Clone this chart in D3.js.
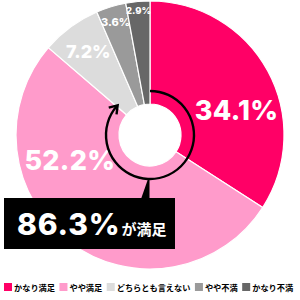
<!DOCTYPE html>
<html>
<head>
<meta charset="utf-8">
<script src="https://cdn.jsdelivr.net/npm/d3@7"></script>
<style>
  html, body { margin: 0; padding: 0; background: #fff; }
  svg { display: block; }
</style>
</head>
<body>
<div id="chart"></div>
<script>
// data
const categories = ['かなり満足', 'やや満足', 'どちらとも言えない', 'やや不満', 'かなり不満']
const values = [34.1, 52.2, 7.2, 3.6, 2.9]
const colors = ['#ff0066', '#ff9bcb', '#dcdcdc', '#9a9a9a', '#676767']
const satisfied = 86.3
const satisfiedLabel = 'が満足'

// layout
const width = 300
const height = 300
const cx = 150
const cy = 135
const outerR = 134
const innerR = 31
const ringR = 44
// label placement [angle in deg from top, radius, font size]
const labelPos = [[74, 90, 27], [252.6, 84, 27], [323.6, 104, 18], [343, 118, 11], [354.8, 125, 9.5]]

const svg = d3.select('#chart').append('svg')
  .attr('width', width)
  .attr('height', height)

const g = svg.append('g').attr('transform', `translate(${cx},${cy})`)

const pie = d3.pie().sort(null).value(d => d)
const arcs = pie(values)

const arc = d3.arc().innerRadius(innerR).outerRadius(outerR)

g.selectAll('.slice')
  .data(arcs)
  .enter()
  .append('path')
  .attr('class', 'slice')
  .attr('d', arc)
  .attr('fill', (d, i) => colors[i])
  .attr('stroke', '#fff')
  .attr('stroke-width', 1.2)

// percentage labels
g.selectAll('.pct')
  .data(arcs)
  .enter()
  .append('text')
  .attr('class', 'pct')
  .attr('x', (d, i) => Math.sin(labelPos[i][0] * Math.PI / 180) * labelPos[i][1])
  .attr('y', (d, i) => -Math.cos(labelPos[i][0] * Math.PI / 180) * labelPos[i][1])
  .attr('dy', '0.36em')
  .attr('text-anchor', 'middle')
  .style('font-family', 'Inter, Roboto, sans-serif')
  .style('font-weight', 800)
  .style('font-size', (d, i) => labelPos[i][2] + 'px')
  .style('letter-spacing', (d, i) => i < 2 ? '0.3px' : '0px')
  .attr('fill', '#fff')
  .text(d => d.data.toFixed(1) + '%')

// ring arrow showing satisfied share
const endAngle = 2 * Math.PI * satisfied / 100
const p = d3.path()
p.arc(0, 0, ringR, -Math.PI / 2, -Math.PI / 2 + endAngle)
g.append('path')
  .attr('d', p.toString())
  .attr('fill', 'none')
  .attr('stroke', '#000')
  .attr('stroke-width', 2.4)

const tipX = Math.sin(endAngle) * ringR
const tipY = -Math.cos(endAngle) * ringR
const dir = [Math.cos(endAngle), Math.sin(endAngle)]
const head = 8
const spread = 40 * Math.PI / 180
function rot(v, a) {
  return [v[0] * Math.cos(a) - v[1] * Math.sin(a), v[0] * Math.sin(a) + v[1] * Math.cos(a)]
}
const back = [-dir[0], -dir[1]]
const w1 = rot(back, spread)
const w2 = rot(back, -spread)
g.append('path')
  .attr('d', `M${tipX + w1[0] * head},${tipY + w1[1] * head}L${tipX + 1},${tipY - 1}L${tipX + w2[0] * head},${tipY + w2[1] * head}`)
  .attr('fill', 'none')
  .attr('stroke', '#000')
  .attr('stroke-width', 2.4)
  .attr('stroke-linejoin', 'miter')

// callout box
const box = { x: 4, y: 198, w: 171, h: 51 }
svg.append('path')
  .attr('d', `M${cx - 2},${cy + ringR}L${cx - 0.5},${cy + ringR}L${cx - 0.5},${box.y + 1}L${cx - 9},${box.y + 1}Z`)
  .attr('fill', '#000')

svg.append('rect')
  .attr('x', box.x)
  .attr('y', box.y)
  .attr('width', box.w)
  .attr('height', box.h)
  .attr('fill', '#000')

const callout = svg.append('text')
  .attr('x', 17)
  .attr('y', 235)
  .attr('fill', '#fff')
callout.append('tspan')
  .style('font-family', 'Inter, Roboto, sans-serif')
  .style('font-weight', 800)
  .style('font-size', '30px')
  .style('letter-spacing', '0.8px')
  .text(satisfied.toFixed(1) + '%')
callout.append('tspan')
  .attr('dx', 1)
  .style('font-family', '"Noto Sans CJK JP", sans-serif')
  .style('font-weight', 700)
  .style('font-size', '15px')
  .text(satisfiedLabel)

// legend
const legend = svg.append('g').attr('transform', 'translate(4,283)')
let lx = 0
categories.forEach((c, i) => {
  const item = legend.append('g').attr('transform', `translate(${lx},0)`)
  item.append('rect')
    .attr('width', 8)
    .attr('height', 8)
    .attr('fill', colors[i])
  const t = item.append('text')
    .attr('x', 10)
    .attr('y', 7.5)
    .style('font-family', '"Noto Sans CJK JP", sans-serif')
    .style('font-weight', 700)
    .style('font-size', '8.2px')
    .attr('fill', '#000')
    .text(c)
  lx += 10 + t.node().getComputedTextLength() + 4.5
})
</script>
</body>
</html>
